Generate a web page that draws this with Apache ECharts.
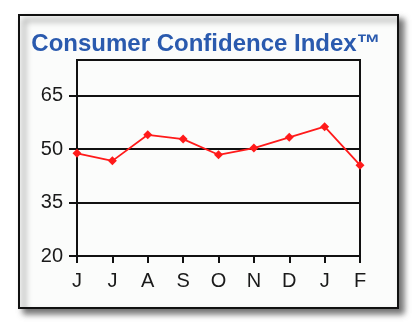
<!DOCTYPE html>
<html><head><meta charset="utf-8">
<script src="https://cdn.jsdelivr.net/npm/echarts@6/dist/echarts.min.js"></script>
<style>html,body{margin:0;padding:0;background:#fff}#c{width:412px;height:330px}</style>
</head><body><div id="c"></div>
<script>
const titleText = 'Consumer Confidence Index™';
const months = ['J','J','A','S','O','N','D','J','F'];
const indexValues = [48.8, 46.7, 54.0, 52.8, 48.4, 50.3, 53.3, 56.3, 45.5];
const yTicks = [20, 35, 50, 65];

const chart = echarts.init(document.getElementById('c'));
chart.setOption({
  animation: false,
  backgroundColor: '#ffffff',
  graphic: [{
    type: 'rect', z: -10,
    shape: {x: 19, y: 15, width: 379, height: 293},
    style: {fill: '#fbfcfb', stroke: '#111', lineWidth: 2,
      shadowBlur: 6, shadowOffsetX: 5, shadowOffsetY: 5, shadowColor: 'rgba(0,0,0,0.55)'}
  }],
  title: {
    text: titleText, left: 'center', top: 27,
    textStyle: {fontFamily: 'Liberation Sans, Arial, sans-serif', fontSize: 24, fontWeight: 'bold', color: '#2a5aae'}
  },
  grid: {left: 77, right: 52, top: 60, bottom: 74, show: true, borderColor: '#111', borderWidth: 2, backgroundColor: 'transparent'},
  xAxis: {
    type: 'category', data: months, boundaryGap: false,
    axisLine: {lineStyle: {color: '#111', width: 2}},
    axisTick: {show: true, length: 7, lineStyle: {color: '#111', width: 2}},
    axisLabel: {margin: 15, fontSize: 20, color: '#1a1a1a', fontFamily: 'Liberation Sans, Arial, sans-serif'},
    splitLine: {show: false}
  },
  yAxis: {
    type: 'value', min: yTicks[0], max: 75, interval: 15,
    axisLine: {show: true, lineStyle: {color: '#111', width: 2}},
    axisTick: {show: true, length: 8, lineStyle: {color: '#111', width: 2}},
    axisLabel: {margin: 14, fontSize: 20, color: '#1a1a1a', fontFamily: 'Liberation Sans, Arial, sans-serif',
      showMaxLabel: false,
      formatter: v => yTicks.includes(v) ? String(v) : ''},
    splitLine: {show: true, lineStyle: {color: '#111', width: 2}}
  },
  series: [{
    type: 'line', data: indexValues,
    lineStyle: {color: '#ff1a1a', width: 1.8},
    itemStyle: {color: '#ff1a1a'},
    symbol: 'diamond', symbolSize: 9, showSymbol: true
  }]
});
</script></body></html>
